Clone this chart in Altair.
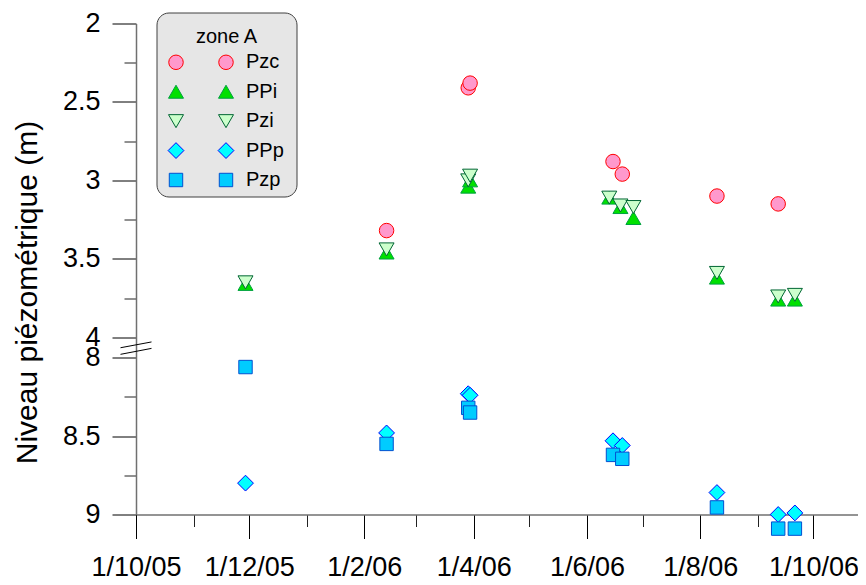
import altair as alt
import pandas as pd

# ---------------- data ----------------
names = ["Pzc", "PPi", "Pzi", "PPp", "Pzp"]

pzc_dates = ["2006-02-13", "2006-03-29", "2006-03-30", "2006-06-15", "2006-06-20",
             "2006-08-10", "2006-09-12"]
pzc_vals = [3.32, 2.41, 2.38, 2.88, 2.96, 3.10, 3.15]

ppi_dates = ["2005-11-29", "2006-02-13", "2006-03-29", "2006-03-30", "2006-06-13",
             "2006-06-19", "2006-06-26", "2006-08-10", "2006-09-12", "2006-09-21"]
ppi_vals = [3.66, 3.46, 3.04, 3.00, 3.11, 3.17, 3.24, 3.62, 3.76, 3.76]

pzi_dates = ["2005-11-29", "2006-02-13", "2006-03-29", "2006-03-30", "2006-06-13",
             "2006-06-19", "2006-06-26", "2006-08-10", "2006-09-12", "2006-09-21"]
pzi_vals = [3.65, 3.44, 3.00, 2.97, 3.11, 3.16, 3.17, 3.59, 3.74, 3.73]

ppp_dates = ["2005-11-29", "2006-02-13", "2006-03-29", "2006-03-30", "2006-06-15",
             "2006-06-20", "2006-08-10", "2006-09-12", "2006-09-21"]
ppp_vals = [8.80, 8.48, 8.23, 8.24, 8.53, 8.56, 8.86, 9.00, 8.99]

pzp_dates = ["2005-11-29", "2006-02-13", "2006-03-29", "2006-03-30", "2006-06-15",
             "2006-06-20", "2006-08-10", "2006-09-12", "2006-09-21"]
pzp_vals = [8.06, 8.55, 8.32, 8.35, 8.62, 8.645, 8.955, 9.09, 9.09]

y_major = [2, 2.5, 3, 3.5, 4, 8, 8.5, 9]
y_minor = [2.25, 2.75, 3.25, 3.75, 8.25, 8.75]

# ---------------- styles ----------------
shapes = ["circle", "triangle-up", "triangle-down", "diamond", "square"]
fills = ["#ff99cc", "#00e000", "#ccffcc", "#00ffff", "#00ccff"]
strokes = ["#ff0000", "#00a040", "#006633", "#0000ff", "#0050d0"]
sizes = [210, 225, 225, 250, 180]

FONT = "Liberation Sans"

# broken axis: 2..4 then 8..9, with a small gap
GAP = 0.13
SHIFT = 8 - 4 - GAP


def tr(v):
    return v - SHIFT if v > 6 else v


rows = []
for nm, ds, vs in [("Pzc", pzc_dates, pzc_vals), ("PPi", ppi_dates, ppi_vals),
                   ("Pzi", pzi_dates, pzi_vals), ("PPp", ppp_dates, ppp_vals),
                   ("Pzp", pzp_dates, pzp_vals)]:
    for d, v in zip(ds, vs):
        rows.append({"series": nm, "date": d, "value": v, "yt": tr(v)})
df = pd.DataFrame(rows)

y_dom = [2, tr(9)]
y_scale = alt.Scale(domain=y_dom, reverse=True, nice=False, zero=False)

x_dom = [alt.DateTime(year=2005, month=10, date=1, utc=True),
         alt.DateTime(year=2006, month=10, date=25, utc=True)]
x_scale = alt.Scale(type="utc", domain=x_dom, nice=False)

x_major = [alt.DateTime(year=y, month=m, date=1, utc=True)
           for y, m in [(2005, 10), (2005, 12), (2006, 2), (2006, 4), (2006, 6), (2006, 8), (2006, 10)]]
x_minor = [alt.DateTime(year=y, month=m, date=1, utc=True)
           for y, m in [(2005, 11), (2006, 1), (2006, 3), (2006, 5), (2006, 7), (2006, 9)]]

label_expr = (f"datum.value > 4.06 ? format(datum.value + {SHIFT}, '.1~f') "
              f": format(datum.value, '.1~f')")

shape_enc = alt.Shape("series:N", scale=alt.Scale(domain=names, range=shapes), legend=None)
fill_enc = alt.Fill("series:N", scale=alt.Scale(domain=names, range=fills), legend=None)
stroke_enc = alt.Stroke("series:N", scale=alt.Scale(domain=names, range=strokes), legend=None)
size_enc = alt.Size("series:N", scale=alt.Scale(type="ordinal", domain=names, range=sizes),
                    legend=None)

DOMAIN_COLOR = "#707070"

points = alt.Chart(df).mark_point(filled=True, strokeWidth=1, opacity=1).encode(
    x=alt.X("date:T", scale=x_scale,
            axis=alt.Axis(values=x_major, orient="bottom", title=None, grid=False,
                          labelExpr="utcFormat(datum.value, '%-d/%-m/%y')",
                          tickSize=24, tickColor="#000", tickWidth=1,
                          domainColor=DOMAIN_COLOR, domainWidth=1.5,
                          labelFont=FONT, labelFontSize=27, labelColor="#000",
                          labelPadding=16, labelFlush=False, labelOverlap=False)),
    y=alt.Y("yt:Q", scale=y_scale,
            axis=alt.Axis(values=[tr(v) for v in y_major], orient="left", grid=False,
                          labelExpr=label_expr,
                          tickSize=24, tickColor="#000", tickWidth=1,
                          domainColor=DOMAIN_COLOR, domainWidth=1.5,
                          labelFont=FONT, labelFontSize=27, labelColor="#000",
                          labelPadding=12, labelOverlap=False, labelBound=False,
                          labelFlush=False,
                          title="Niveau piézométrique (m)", titleFont=FONT,
                          titleFontSize=30, titleFontWeight="normal",
                          titleColor="#000", titlePadding=20, titleY=268.5)),
    shape=shape_enc, fill=fill_enc, stroke=stroke_enc, size=size_enc,
    order=alt.Order("idx:Q"),
).transform_window(idx="row_number()")

# minor x ticks (invisible points carry the axis)
x_minor_layer = alt.Chart(df).mark_point(opacity=0).encode(
    x=alt.X("date:T", scale=x_scale,
            axis=alt.Axis(values=x_minor, orient="bottom", title=None, grid=False,
                          labels=False, domain=False, tickSize=12,
                          tickColor="#222", tickWidth=1)),
    y=alt.Y("yt:Q", scale=y_scale, axis=None),
)

# axis break marks and minor y ticks
break_df = pd.DataFrame({"y_left": [4.067, 4.109], "y_right": [4.030, 4.071]})
break_layer = alt.Chart(break_df).mark_rule(color="#000", strokeWidth=1).encode(
    x=alt.value(-15.5), x2=alt.value(15.5),
    y=alt.Y("y_left:Q", scale=y_scale,
            axis=alt.Axis(values=[tr(v) for v in y_minor], orient="left", grid=False,
                          labels=False, domain=False, title=None, tickSize=12,
                          tickColor="#222", tickWidth=1)),
    y2="y_right:Q",
)

# ---------------- legend (drawn box) ----------------
leg_df = pd.DataFrame({"series": names})
one = pd.DataFrame({"k": [0]})
leg_box = alt.Chart(one).mark_rect(cornerRadius=12, fill="#e6e6e6", stroke="#404040",
                                   strokeWidth=1).encode(
    x=alt.value(21), x2=alt.value(161), y=alt.value(-10.5), y2=alt.value(173.5))
leg_title = alt.Chart(one).mark_text(text="zone A", font=FONT, fontSize=20, align="center",
                                     baseline="alphabetic", color="#000").encode(
    x=alt.value(90.5), y=alt.value(19.8))
leg_y = alt.Y("series:N", scale=alt.Scale(type="point", domain=names, range=[38.8, 156.5],
                                          padding=0), axis=None)
leg_sym1 = alt.Chart(leg_df).mark_point(filled=True, strokeWidth=1, opacity=1).encode(
    x=alt.value(40), y=leg_y, shape=shape_enc, fill=fill_enc, stroke=stroke_enc, size=size_enc)
leg_sym2 = alt.Chart(leg_df).mark_point(filled=True, strokeWidth=1, opacity=1).encode(
    x=alt.value(90), y=leg_y, shape=shape_enc, fill=fill_enc, stroke=stroke_enc, size=size_enc)
leg_text = alt.Chart(leg_df).mark_text(font=FONT, fontSize=20, align="left",
                                       baseline="middle", color="#000").encode(
    x=alt.value(110), y=leg_y, text="series:N")

chart = alt.layer(
    x_minor_layer, break_layer, points, leg_box, leg_title, leg_sym1, leg_sym2, leg_text
).resolve_scale(y="independent").resolve_axis(x="independent", y="independent").properties(
    width=722, height=491,
    autosize=alt.AutoSizeParams(type="none"),
    padding={"left": 128, "top": 15.5, "right": 0, "bottom": 68},
    background="white",
).configure_view(stroke=None)

chart.save("out.html", embed_options={"renderer": "svg", "actions": False})
